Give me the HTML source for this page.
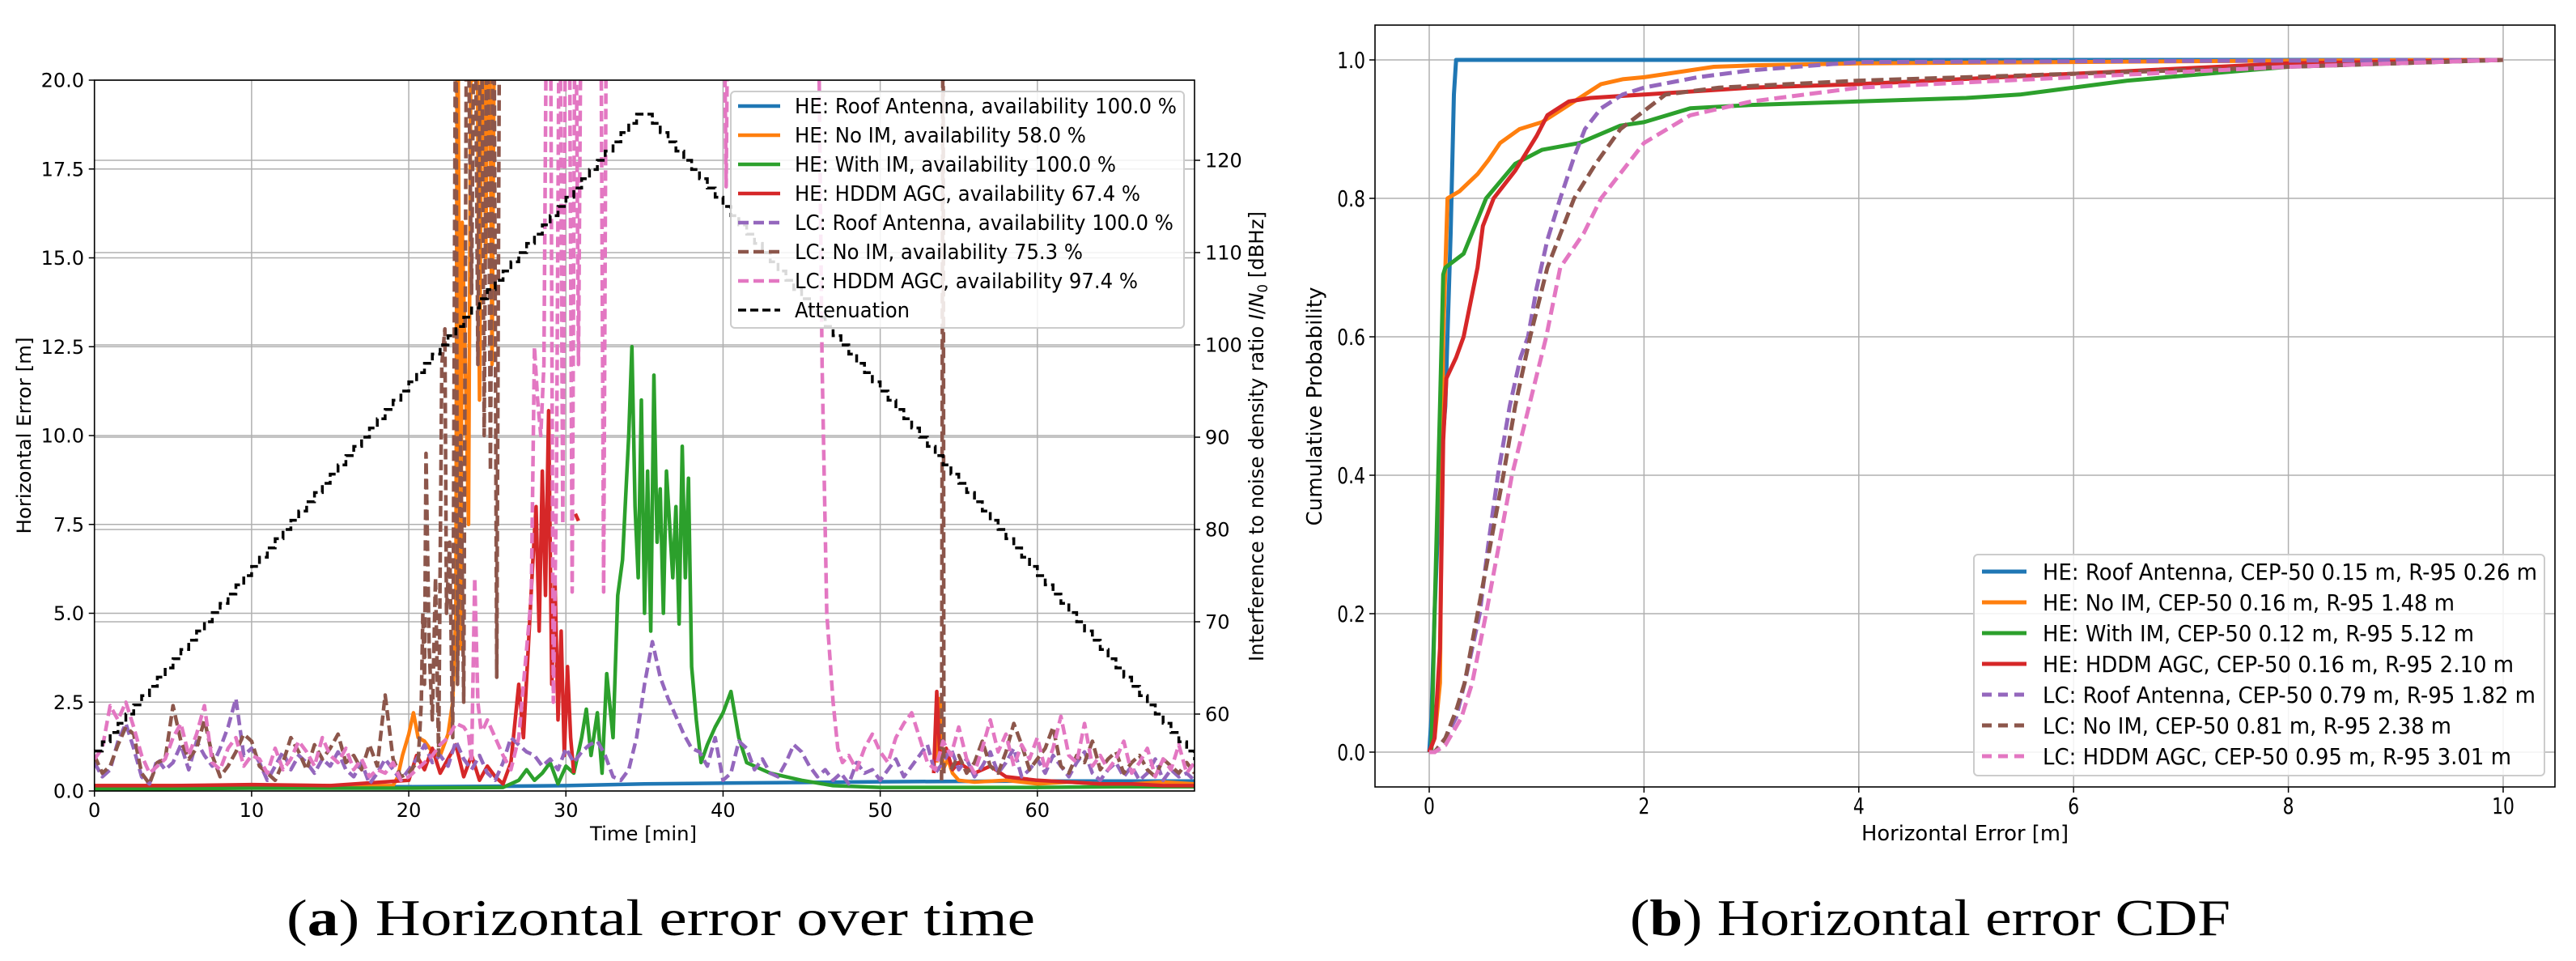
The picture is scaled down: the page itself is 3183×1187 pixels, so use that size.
<!DOCTYPE html>
<html><head><meta charset="utf-8"><style>
html,body{margin:0;padding:0;background:#fff}
svg{display:block}
text{font-family:"DejaVu Sans","Liberation Sans",sans-serif;fill:#000}
</style></head><body>
<svg id="fig" width="3183" height="1187" viewBox="0 0 3183 1187" xmlns="http://www.w3.org/2000/svg">
<defs>
<clipPath id="clipL"><rect x="116.7" y="99" width="1359.3" height="878"/></clipPath>
<clipPath id="clipR"><rect x="1699" y="31" width="1458" height="941"/></clipPath>
</defs>
<g id="left"></g>
<g id="right"></g>
<text x="354" y="1155" font-size="64" textLength="925" lengthAdjust="spacingAndGlyphs" style="font-family:'Liberation Serif',serif">(<tspan font-weight="bold">a</tspan>) Horizontal error over time</text>
<text x="2014" y="1155" font-size="64" textLength="742" lengthAdjust="spacingAndGlyphs" style="font-family:'Liberation Serif',serif">(<tspan font-weight="bold">b</tspan>) Horizontal error CDF</text>
</svg>
<script>
// ---------- Left chart data ----------
const timeTicks = [0,10,20,30,40,50,60];
const errTicks = [0,2.5,5,7.5,10,12.5,15,17.5,20];
const errTickLabels = ["0.0","2.5","5.0","7.5","10.0","12.5","15.0","17.5","20.0"];
const dbTicks = [60,70,80,90,100,110,120];
const gridStep = 0.5; // minutes between grid samples
const blueT = [0,10,20,25,30,35,40,45,50,55,60,65,70];
const blueV = [0.12,0.12,0.12,0.13,0.15,0.2,0.22,0.24,0.26,0.27,0.28,0.28,0.28];
const orangeT = [0,5,10,15,19,19.3,19.6,20,20.3,20.6,21,21.5,22,22.5,22.8,23.0,23.1,23.3,23.4,23.6,23.8,24.0,24.1,24.3,24.5,24.7,24.9,25.1,25.3,25.5,25.7,26,53.6,53.8,54.0,54.3,54.6,55,56,58,60,62,64,66,68,70];
const orangeV = [0.15,0.15,0.15,0.15,0.15,0.4,1.0,1.6,2.2,1.5,1.4,1.1,1.0,1.6,2.5,5.0,25,4.0,16,12,7.5,25,20,25,11,25,15,25,12,25,20,null,0.8,2.6,0.6,0.9,0.5,0.3,0.25,0.3,0.2,0.25,0.2,0.2,0.25,0.2];
const greenT = [0,10,20,26,27,27.5,28,28.5,29,29.5,30,30.5,31,31.3,31.6,32,32.3,32.6,33,33.3,33.6,34,34.2,34.4,34.6,34.8,35,35.2,35.4,35.6,35.8,36,36.2,36.4,36.6,36.8,37,37.2,37.4,37.6,37.8,38,38.3,38.6,39,39.5,40,40.5,41,41.5,42,43,44,45,47,50,55,60,65,70];
const greenV = [0.05,0.08,0.08,0.1,0.3,0.6,0.3,0.5,0.8,0.2,0.7,0.5,1.5,2.3,1.0,2.2,0.5,3.3,1.5,5.5,6.5,10,12.5,8,6,11,5,9,4.5,11.7,7,8.5,5,9,7.5,6,8,4.7,9.7,6,8.8,3.5,2.0,0.8,1.3,1.8,2.2,2.8,1.5,0.8,0.7,0.5,0.4,0.3,0.15,0.1,0.1,0.1,0.12,0.12];
const redT = [0,5,10,15,20,20.5,21,21.5,22,22.5,23,23.5,24,24.5,25,25.5,26,26.5,27,27.3,27.6,27.9,28.1,28.3,28.5,28.7,28.9,29.1,29.3,29.5,29.7,29.9,30.1,30.3,30.5,30.55,30.6,30.8,31,53.4,53.6,53.8,54.2,54.6,55,56,57,58,60,62,64,66,68,70];
const redV = [0.15,0.15,0.18,0.15,0.3,1.0,0.6,1.2,0.5,0.9,1.3,0.4,1.0,0.3,0.7,0.4,0.2,0.8,3.0,1.5,4.0,6.5,8.0,4.5,9.0,5.5,10.7,3.0,6.0,2.0,4.5,1.0,3.5,1.5,0.5,null,7.8,7.6,null,0.5,2.8,1.0,1.2,0.6,0.8,0.5,0.7,0.4,0.3,0.25,0.2,0.2,0.15,0.15];
const purpleGrid = [0.8,0.4,0.6,1.4,1.9,1.2,0.4,0.2,0.9,0.6, 0.8,1.3,0.6,1.4,1.0,0.7,1.2,1.8,2.6,1.0, 1.2,0.8,0.3,0.7,1.1,0.6,1.0,0.8,0.5,0.9, 0.7,1.1,0.6,0.4,0.8,0.2,0.5,0.9,0.6,0.3, 0.6,0.9,1.3,0.8,1.0,0.7,1.4,0.9,0.6,1.0, 0.5,0.3,0.8,1.5,1.3,1.1,1.0,0.7,0.9,0.6, 1.2,0.8,1.1,1.3,1.4,1.0,0.4,0.3,0.6,1.5, 3.0,4.2,3.2,2.6,2.1,1.6,1.2,1.1,0.7,1.5, 0.3,0.5,1.4,1.2,0.6,0.9,0.5,0.4,0.8,1.3, 1.1,0.7,0.4,0.6,0.3,0.5,0.2,0.8,0.5,0.6, 0.3,0.6,0.9,0.4,0.7,1.0,1.3,0.5,0.8,1.2, 0.6,0.9,0.4,0.7,1.1,0.5,0.8,1.2,0.4,0.6, 0.9,0.5,1.0,0.7,0.4,0.8,1.1,0.5,0.3,0.6, 0.8,0.4,0.7,0.3,0.5,0.9,0.3,0.6,0.4,0.5, 0.3];
const brownGrid = [1.0,0.5,0.7,1.3,1.8,1.6,0.5,0.2,0.8,0.9, 2.4,1.4,0.9,1.2,2.0,1.0,0.4,0.7,1.1,1.6, 1.4,0.7,0.5,0.3,0.8,1.5,1.1,0.6,1.3,0.9, 1.2,1.6,0.8,1.0,0.6,1.3,0.7,2.7,0.9,0.4, 0.5,0.8,null,null,null,null,null,null,null,null, null,null,null,null,null,null,null,null,null,null, null,null,null,null,null,null,null,null,null,null, null,null,null,null,null,null,null,null,null,null, null,null,null,null,null,null,null,null,null,null, null,null,null,null,null,null,null,null,null,null, null,null,null,null,null,null,null,null,null,0.6, 1.0,0.5,0.8,1.4,0.7,0.5,1.1,1.9,1.3,0.6, 0.9,1.2,1.8,0.7,0.5,1.0,0.8,1.4,0.6,0.9, 1.1,0.5,0.8,1.0,0.6,0.4,0.9,0.7,0.5,0.8, 0.5];
const brownBurstT = [20.6,20.8,20.9,21.0,21.1,21.3,21.5,21.7,21.9,22.1,22.3,22.4,22.6,22.8,23.0,23.1,23.3,23.5,23.7,24.0,24.2,24.4,24.6,24.8,25.0,25.2,25.4,25.6,25.8];
const brownBurstV = [0.8,2.5,5.0,3.0,9.5,4.0,2.0,6.0,1.0,12.0,13.0,5.0,7.0,1.5,25,3.0,10,2.5,25,14,25,12,25,10,25,9,25,3.2,25];
const brownSpikeT = [53.9,54.0,54.05];
const brownSpikeV = [0.3,25,0.4];
const pinkGrid = [0.9,1.2,2.4,2.0,2.5,1.8,1.0,0.5,0.7,0.9, 1.5,1.9,1.0,1.6,2.4,0.8,0.6,1.2,1.5,0.7, 1.0,0.9,0.5,1.2,0.6,0.9,1.4,1.1,0.7,1.5, 1.0,0.8,1.2,0.6,0.9,0.4,0.6,0.5,0.8,0.3, 0.4,0.6,0.8,1.0,1.3,1.5,1.9,1.8,null,null, null,null,null,null,null,null,null,null,null,null, null,null,null,null,null,null,null,null,null,null, null,null,null,null,null,null,null,null,null,null, null,null,null,null,null,null,null,null,null,null, null,null,null,null,null,null,1.0,0.6,1.2,1.6, 1.1,0.8,1.5,1.9,2.2,1.5,0.8,0.6,1.4,1.0, 1.8,0.9,0.5,1.2,2.0,1.1,1.6,0.7,1.3,0.9, 1.5,0.6,1.2,2.1,1.0,0.8,1.9,0.7,1.0,0.6, 0.9,1.4,0.5,0.8,1.2,0.4,0.9,0.6,1.3,0.5, 0.8];
const pinkBurstT = [23.8,24.0,24.2,24.4,24.6,24.8,25.0,25.5,26.0,26.5,27.0,27.3,27.6,27.8,28.0,28.2,28.4,28.6,28.8,29.0,29.2,29.4,29.6,29.8,30.0,30.2,30.4,30.6,30.8,31.0,31.5,32.0,32.2,32.4,32.6,32.8,33.0,33.5,40.0,40.2,40.35,40.5,46.0,46.3,46.6,47.0,47.3,47.6,48.0];
const pinkBurstV = [1.6,0.8,6.0,2.5,1.7,1.8,2.0,1.5,1.0,0.6,1.5,3.0,4.5,5.5,12.5,11,10,12,25,25,2.5,8.5,25,7.5,25,25,5.6,25,12,25,25,25,25,5.6,25,25,25,25,25,17,25,25,25,12,5,2.5,1.2,0.8,1.0];
const attenDb = [56,57,58,59,60,61,62,63,64,65,66,67,68,69,70,71,72,73,74,75,76,77,78,79,80,81,82,83,84,85,86,87,88,89,90,91,92,93,94,95,96,97,98,99,100,101,102,103,104,105,106,107,108,109,110,111,112,113,114,115,116,117,118,119,120,121,122,123,124,125,125,124,123,122,121,120,119,118,117,116,115,114,113,112,111,110,109,108,107,106,105,104,103,102,101,100,99,98,97,96,95,94,93,92,91,90,89,88,87,86,85,84,83,82,81,80,79,78,77,76,75,74,73,72,71,70,69,68,67,66,65,64,63,62,61,60,59,58,57,56,55];
const legendLLabels = ["HE: Roof Antenna, availability 100.0 %","HE: No IM, availability 58.0 %","HE: With IM, availability 100.0 %","HE: HDDM AGC, availability 67.4 %","LC: Roof Antenna, availability 100.0 %","LC: No IM, availability 75.3 %","LC: HDDM AGC, availability 97.4 %","Attenuation"];
const legendLWidths = [472,360,397,427,468,356,424,142];

// ---------- Right chart data ----------
const cdfXTicks = [0,2,4,6,8,10];
const cdfYTicks = [0,0.2,0.4,0.6,0.8,1.0];
const cdfYTickLabels = ["0.0","0.2","0.4","0.6","0.8","1.0"];
const cdfBlueX = [0,0.02,0.05,0.1,0.15,0.2,0.23,0.25,10];
const cdfBlueY = [0,0.05,0.2,0.4,0.5,0.75,0.95,1.0,1.0];
const cdfOrangeX = [0,0.05,0.1,0.13,0.17,0.28,0.45,0.55,0.66,0.84,1.05,1.2,1.4,1.6,1.8,2.0,2.65,3,4,6,8,10];
const cdfOrangeY = [0,0.02,0.1,0.6,0.8,0.81,0.835,0.855,0.88,0.9,0.91,0.925,0.945,0.965,0.972,0.975,0.99,0.992,0.995,0.997,0.999,1.0];
const cdfGreenX = [0,0.02,0.05,0.1,0.13,0.15,0.32,0.53,0.8,1.05,1.4,1.78,2.0,2.43,3,4,5,5.5,6.5,8,10];
const cdfGreenY = [0,0.0,0.2,0.5,0.69,0.7,0.72,0.8,0.85,0.87,0.88,0.905,0.91,0.93,0.935,0.94,0.945,0.95,0.97,0.99,1.0];
const cdfRedX = [0,0.05,0.1,0.13,0.16,0.25,0.32,0.45,0.5,0.6,0.8,1.0,1.1,1.3,1.5,2,3,4,6,8,10];
const cdfRedY = [0,0.02,0.15,0.45,0.54,0.57,0.6,0.7,0.76,0.8,0.84,0.89,0.92,0.94,0.945,0.95,0.96,0.965,0.98,0.995,1.0];
const cdfPurpleX = [0,0.05,0.15,0.25,0.33,0.4,0.47,0.55,0.64,0.75,0.85,0.92,1.0,1.1,1.22,1.35,1.45,1.6,1.8,2.0,2.5,3.0,4.0,10];
const cdfPurpleY = [0,0,0.02,0.05,0.1,0.15,0.2,0.3,0.4,0.5,0.57,0.6,0.67,0.74,0.8,0.86,0.9,0.93,0.95,0.96,0.975,0.985,0.997,1.0];
const cdfBrownX = [0,0.05,0.15,0.25,0.33,0.45,0.57,0.69,0.8,0.94,1.1,1.35,1.55,1.78,2.2,2.7,4,6,8,10];
const cdfBrownY = [0,0,0.02,0.06,0.1,0.2,0.3,0.4,0.5,0.6,0.7,0.8,0.85,0.9,0.95,0.96,0.97,0.98,0.99,1.0];
const cdfPinkX = [0,0.05,0.15,0.3,0.4,0.53,0.65,0.77,0.93,1.09,1.22,1.44,1.6,2.0,2.43,3,4,6,8,10];
const cdfPinkY = [0,0,0.01,0.05,0.1,0.2,0.3,0.4,0.5,0.6,0.7,0.75,0.8,0.88,0.92,0.94,0.96,0.975,0.99,1.0];
const legendRLabels = ["HE: Roof Antenna, CEP-50 0.15 m, R-95 0.26 m","HE: No IM, CEP-50 0.16 m, R-95 1.48 m","HE: With IM, CEP-50 0.12 m, R-95 5.12 m","HE: HDDM AGC, CEP-50 0.16 m, R-95 2.10 m","LC: Roof Antenna, CEP-50 0.79 m, R-95 1.82 m","LC: No IM, CEP-50 0.81 m, R-95 2.38 m","LC: HDDM AGC, CEP-50 0.95 m, R-95 3.01 m"];
const legendRWidths = [611,509,533,582,609,505,579];

const C = {blue:"#1f77b4",orange:"#ff7f0e",green:"#2ca02c",red:"#d62728",purple:"#9467bd",brown:"#8c564b",pink:"#e377c2"};
const NS = "http://www.w3.org/2000/svg";
function el(tag, attrs, parent){const e=document.createElementNS(NS,tag);for(const k in attrs)e.setAttribute(k,attrs[k]);parent.appendChild(e);return e;}

const L = {x0:116.7,x1:1476,y0:977,y1:99};
const xL = t => L.x0 + t/70*(L.x1-L.x0);
const yL = v => L.y0 - v/20*(L.y0-L.y1);
const yDb = d => 882 - (d-60)*11.4;
const R = {x0:1699,x1:3157,y0:972,y1:31};
const xC = x => 1766 + x*132.7;
const yC = p => 929 - p*855;

function pathFrom(T,V,xs,ys){let d="",pen=false;for(let i=0;i<T.length;i++){if(V[i]===null||V[i]===undefined){pen=false;continue;}d+=(pen?"L":"M")+xs(T[i]).toFixed(1)+","+ys(V[i]).toFixed(1);pen=true;}return d;}
function merge(grid, bursts){const gT=grid.map((_,i)=>i*gridStep);let pts=[];gT.forEach((t,i)=>{if(!bursts.some(b=>t>=b[0][0]&&t<=b[0][b[0].length-1]))pts.push([t,grid[i]]);});bursts.forEach(b=>b[0].forEach((t,i)=>pts.push([t,b[1][i]])));pts.sort((a,b)=>a[0]-b[0]);return [pts.map(p=>p[0]),pts.map(p=>p[1])];}

const gl = document.getElementById('left');
const gGrid = el('g',{},gl);


timeTicks.forEach(t=>{const l=el('line',{x1:xL(t),x2:xL(t),y1:L.y1,y2:L.y0,stroke:"#b0b0b0","stroke-width":1.5},gGrid);});
errTicks.forEach(v=>{const l=el('line',{x1:L.x0,x2:L.x1,y1:yL(v),y2:yL(v),stroke:"#b0b0b0","stroke-width":1.5},gGrid);});
dbTicks.forEach(d=>{const l=el('line',{x1:L.x0,x2:L.x1,y1:yDb(d),y2:yDb(d),stroke:"#b0b0b0","stroke-width":1.5},gGrid);});

const gS = el('g',{"clip-path":"url(#clipL)"},gl);


function series(name,T,V,color,dash,w){const p=el('path',{d:pathFrom(T,V,xL,yL),fill:"none",stroke:color,"stroke-width":w||4.5,"stroke-linejoin":"round"},gS);if(dash)p.setAttribute('stroke-dasharray',dash);}
const grid0 = purpleGrid.map((_,i)=>i*gridStep);
series('he-roof-antenna-line',blueT,blueV,C.blue);
series('he-no-im-line',orangeT,orangeV,C.orange);
series('he-with-im-line',greenT,greenV,C.green);
series('he-hddm-agc-line',redT,redV,C.red);
series('lc-roof-antenna-line',grid0,purpleGrid,C.purple,"13 6");
const bm = merge(brownGrid,[[brownBurstT,brownBurstV]]);
series('lc-no-im-line',bm[0],bm[1],C.brown,"13 6");
series('lc-no-im-spike',brownSpikeT,brownSpikeV,C.brown,"13 6");
const pm = merge(pinkGrid,[[pinkBurstT,pinkBurstV]]);
series('lc-hddm-agc-line',pm[0],pm[1],C.pink,"13 6");
(function(){let d="";attenDb.forEach((v,i)=>{const x=xL(i*gridStep),y=yDb(v);d+= (i===0?"M"+x+","+y:"V"+y.toFixed(1))+"H"+xL(Math.min((i+1)*gridStep,70)).toFixed(1);});const p=el('path',{d:d,fill:"none",stroke:"#000","stroke-width":3.5,"stroke-dasharray":"10 5"},gS);})();

const fr = el('rect',{x:L.x0,y:L.y1,width:L.x1-L.x0,height:L.y0-L.y1,fill:"none",stroke:"#000","stroke-width":1.6},gl);


timeTicks.forEach(t=>{el('line',{x1:xL(t),x2:xL(t),y1:L.y0,y2:L.y0+7,stroke:"#000","stroke-width":1.5},gl);const tx=el('text',{x:xL(t),y:1009,"font-size":24,"text-anchor":"middle"},gl);tx.textContent=t;});
errTicks.forEach((v,i)=>{el('line',{x1:L.x0-7,x2:L.x0,y1:yL(v),y2:yL(v),stroke:"#000","stroke-width":1.5},gl);const tx=el('text',{x:104,y:yL(v)+8.5,"font-size":24,"text-anchor":"end"},gl);tx.textContent=errTickLabels[i];});
dbTicks.forEach(d=>{el('line',{x1:L.x1,x2:L.x1+7,y1:yDb(d),y2:yDb(d),stroke:"#000","stroke-width":1.5},gl);const tx=el('text',{x:1489,y:yDb(d)+8.5,"font-size":24},gl);tx.textContent=d;});
(function(){let t=el('text',{x:0,y:0,"font-size":24,"text-anchor":"middle",transform:"translate(38,538) rotate(-90)",textLength:243,lengthAdjust:"spacingAndGlyphs"},gl);t.textContent="Horizontal Error [m]";
t=el('text',{x:795,y:1038,"font-size":24,"text-anchor":"middle",textLength:132,lengthAdjust:"spacingAndGlyphs"},gl);t.textContent="Time [min]";
t=el('text',{x:0,y:0,"font-size":25,"text-anchor":"middle",transform:"translate(1561,539) rotate(-90)",textLength:556,lengthAdjust:"spacingAndGlyphs"},gl);t.innerHTML='Interference to noise density ratio <tspan font-style="italic">I</tspan>/<tspan font-style="italic">N</tspan><tspan font-size="17" dy="5">0</tspan><tspan dy="-5"> [dBHz]</tspan>';})();
(function(){const g=el('g',{},gl);
el('rect',{x:903,y:113,width:560,height:292,rx:5,fill:"#fff","fill-opacity":0.85,stroke:"#cccccc","stroke-width":2},g);
const cols=[C.blue,C.orange,C.green,C.red,C.purple,C.brown,C.pink,"#000"];
legendLLabels.forEach((lab,i)=>{const y=131+i*36;const ln=el('line',{x1:912,x2:964,y1:y,y2:y,stroke:cols[i],"stroke-width":i==7?3.5:4.5},g);if(i>=4)ln.setAttribute('stroke-dasharray',i==7?"10 5":"13 6");
const t=el('text',{x:982,y:y+9,"font-size":26,textLength:legendLWidths[i],lengthAdjust:"spacingAndGlyphs"},g);t.textContent=lab;});})();

// ---------- Right chart ----------
const gr = document.getElementById('right');
cdfXTicks.forEach(x=>{const l=el('line',{x1:xC(x),x2:xC(x),y1:R.y1,y2:R.y0,stroke:"#b0b0b0","stroke-width":1.5},gr);});
cdfYTicks.forEach(p=>{const l=el('line',{x1:R.x0,x2:R.x1,y1:yC(p),y2:yC(p),stroke:"#b0b0b0","stroke-width":1.5},gr);});
const gc = el('g',{"clip-path":"url(#clipR)"},gr);


function cdf(name,X,Y,color,dash){const p=el('path',{d:pathFrom(X,Y,xC,yC),fill:"none",stroke:color,"stroke-width":5,"stroke-linejoin":"round"},gc);if(dash)p.setAttribute('stroke-dasharray',dash);}
cdf('cdf-he-roof-antenna',cdfBlueX,cdfBlueY,C.blue);
cdf('cdf-he-no-im',cdfOrangeX,cdfOrangeY,C.orange);
cdf('cdf-he-with-im',cdfGreenX,cdfGreenY,C.green);
cdf('cdf-he-hddm-agc',cdfRedX,cdfRedY,C.red);
cdf('cdf-lc-roof-antenna',cdfPurpleX,cdfPurpleY,C.purple,"15 7");
cdf('cdf-lc-no-im',cdfBrownX,cdfBrownY,C.brown,"15 7");
cdf('cdf-lc-hddm-agc',cdfPinkX,cdfPinkY,C.pink,"15 7");
const fr2=el('rect',{x:R.x0,y:R.y1,width:R.x1-R.x0,height:R.y0-R.y1,fill:"none",stroke:"#000","stroke-width":1.6},gr);


cdfXTicks.forEach(x=>{el('line',{x1:xC(x),x2:xC(x),y1:R.y0,y2:R.y0+7,stroke:"#000","stroke-width":1.5},gr);const t=el('text',{x:0,y:0,"font-size":28,"text-anchor":"middle",transform:"translate("+xC(x)+",1005) scale(0.78,1)"},gr);t.textContent=x;});
cdfYTicks.forEach((p,i)=>{el('line',{x1:R.x0-7,x2:R.x0,y1:yC(p),y2:yC(p),stroke:"#000","stroke-width":1.5},gr);const t=el('text',{x:0,y:0,"font-size":28,"text-anchor":"end",transform:"translate(1687,"+(yC(p)+10)+") scale(0.78,1)"},gr);t.textContent=cdfYTickLabels[i];});
(function(){let t=el('text',{x:0,y:0,"font-size":26,"text-anchor":"middle",transform:"translate(1633,502) rotate(-90)",textLength:295,lengthAdjust:"spacingAndGlyphs"},gr);t.textContent="Cumulative Probability";
t=el('text',{x:2428,y:1038,"font-size":26,"text-anchor":"middle",textLength:256,lengthAdjust:"spacingAndGlyphs"},gr);t.textContent="Horizontal Error [m]";})();
(function(){const g=el('g',{},gr);
el('rect',{x:2439,y:685,width:705,height:273,rx:5,fill:"#fff","fill-opacity":0.85,stroke:"#cccccc","stroke-width":2},g);
const cols=[C.blue,C.orange,C.green,C.red,C.purple,C.brown,C.pink];
legendRLabels.forEach((lab,i)=>{const y=706+i*38;const ln=el('line',{x1:2449,x2:2504,y1:y,y2:y,stroke:cols[i],"stroke-width":5},g);if(i>=4)ln.setAttribute('stroke-dasharray',"12 8");
const t=el('text',{x:2524,y:y+10,"font-size":28,textLength:legendRWidths[i],lengthAdjust:"spacingAndGlyphs"},g);t.textContent=lab;});})();
</script>
</body></html>
